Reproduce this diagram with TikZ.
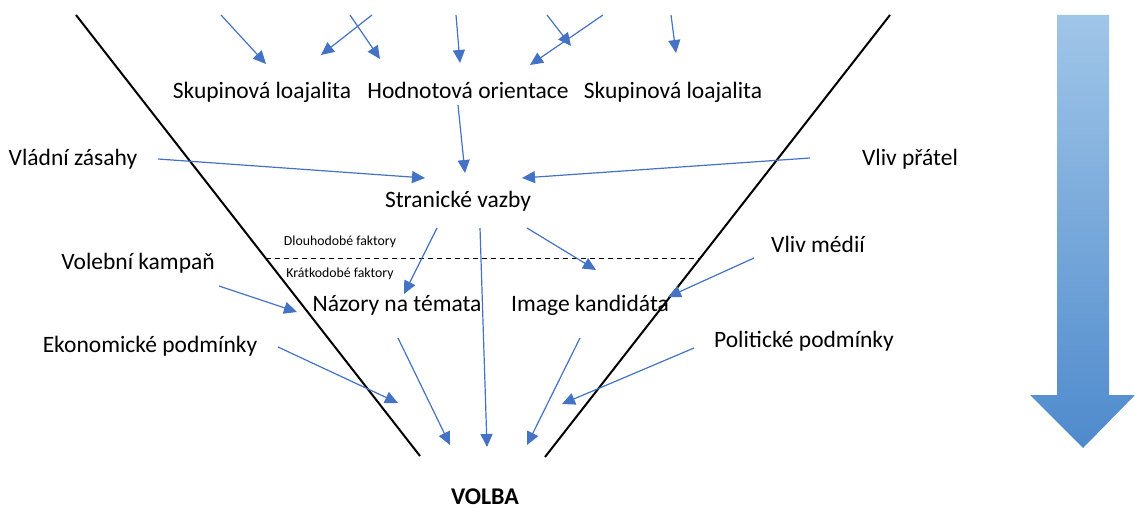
\documentclass[tikz,border=0pt]{standalone}
\usepackage{fontspec}
\setmainfont{Carlito}
\usetikzlibrary{arrows.meta}
\definecolor{arrblue}{RGB}{68,114,196}
\definecolor{bigtop}{RGB}{160,198,232}
\definecolor{bigmid}{RGB}{150,190,228}
\definecolor{bigbot}{RGB}{78,138,204}
\tikzset{
  lbl/.style={inner sep=0pt, anchor=base, font=\fontsize{23.5}{27}\selectfont},
  small/.style={inner sep=0pt, anchor=base, font=\fontsize{13.8}{16}\selectfont},
  conn/.style={draw=arrblue, line width=1.2pt, -{Triangle[length=13pt,width=12pt]}},
  funnel/.style={draw=black, line width=2pt},
}
\begin{document}
\begin{tikzpicture}[x=1pt,y=-1pt]
\useasboundingbox (0,0) rectangle (1135,508);
% funnel
\coordinate (lt) at (76,15);
\coordinate (lb) at (420,456);
\coordinate (rt) at (890,15);
\coordinate (rb) at (545,457);
\draw[funnel] (lt) -- (lb);
\draw[funnel] (rt) -- (rb);
% dashed divider
\coordinate (dl) at (266,258);
\coordinate (dr) at (700,258);
\draw[dashed, line width=1pt, dash pattern=on 5pt off 4pt] (dl) -- (dr);
% labels
\node[lbl] (sk1) at (262,99) {Skupinová loajalita};
\node[lbl] (hod) at (468,99) {Hodnotová orientace};
\node[lbl] (sk2) at (673,99) {Skupinová loajalita};
\node[lbl] (vlad) at (73,165) {Vládní zásahy};
\node[lbl] (prat) at (910,165) {Vliv přátel};
\node[lbl] (vaz) at (458,207) {Stranické vazby};
\node[small] (dlo) at (340,245.5) {Dlouhodobé faktory};
\node[small] (kra) at (340,277.5) {Krátkodobé faktory};
\node[lbl] (kam) at (138,269) {Volební kampaň};
\node[lbl] (med) at (818,252) {Vliv médií};
\node[lbl] (naz) at (397,311) {Názory na témata};
\node[lbl] (img) at (590,311) {Image kandidáta};
\node[lbl] (eko) at (150,352) {Ekonomické podmínky};
\node[lbl] (pol) at (804,347) {Politické podmínky};
\node[inner sep=0pt, anchor=base, font=\fontsize{24}{28}\selectfont\bfseries] (vol) at (485,504) {VOLBA};
% top free arrows
\coordinate (a1s) at (221,15); \coordinate (a1e) at (266,64);
\coordinate (a2s) at (372,15); \coordinate (a2e) at (321,55);
\coordinate (a3s) at (350,15); \coordinate (a3e) at (380,59);
\coordinate (a4s) at (456,15); \coordinate (a4e) at (460,63);
\coordinate (a5s) at (547,15); \coordinate (a5e) at (571,46);
\coordinate (a6s) at (603,15); \coordinate (a6e) at (530,65);
\coordinate (a7s) at (671,15); \coordinate (a7e) at (676,53);
\foreach \i in {1,...,7} {\draw[conn] (a\i s) -- (a\i e);}
% other arrows
\coordinate (hods) at (458,105); \coordinate (vaze) at (465,173);
\draw[conn] (hods) -- (vaze);
\coordinate (vlads) at (158,159); \coordinate (vlade) at (425,178);
\draw[conn] (vlads) -- (vlade);
\coordinate (prats) at (810,158); \coordinate (prate) at (522,178);
\draw[conn] (prats) -- (prate);
\coordinate (v1s) at (437,228); \coordinate (v1e) at (404,294);
\draw[conn] (v1s) -- (v1e);
\coordinate (v2s) at (480,228); \coordinate (v2e) at (487,447);
\draw[conn] (v2s) -- (v2e);
\coordinate (v3s) at (527,228); \coordinate (v3e) at (596,270);
\draw[conn] (v3s) -- (v3e);
\coordinate (kams) at (219,286); \coordinate (kame) at (297,312);
\draw[conn] (kams) -- (kame);
\coordinate (meds) at (754,258); \coordinate (mede) at (668,297);
\draw[conn] (meds) -- (mede);
\coordinate (ekos) at (278,347); \coordinate (ekoe) at (398,403);
\draw[conn] (ekos) -- (ekoe);
\coordinate (nazs) at (398,338); \coordinate (naze) at (450,445);
\draw[conn] (nazs) -- (naze);
\coordinate (imgs) at (580,338); \coordinate (imge) at (527,445);
\draw[conn] (imgs) -- (imge);
\coordinate (pols) at (694,348); \coordinate (pole) at (562,404);
\draw[conn] (pols) -- (pole);
% big arrow
\shade[top color=bigtop, middle color=bigmid, bottom color=bigbot]
  (1057,15) -- (1109,15) -- (1109,395) -- (1135,395) -- (1083,448)
  -- (1030,395) -- (1057,395) -- cycle;
\end{tikzpicture}
\end{document}
